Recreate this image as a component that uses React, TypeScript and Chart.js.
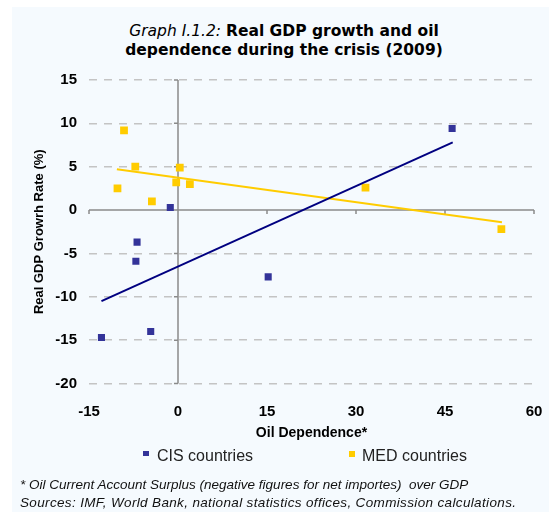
import React, { useEffect, useRef } from "react";
import { Chart, registerables } from "chart.js";

Chart.register(...registerables);

// ---- data ----
const cisX = [46.2, -1.3, -6.9, -7.1, 15.2, -12.9, -4.6];
const cisY = [9.4, 0.3, -3.7, -5.9, -7.7, -14.7, -14.0];
const medX = [-9.1, -7.2, 0.3, -0.3, 2.0, -10.2, -4.4, 31.6, 54.5];
const medY = [9.2, 5.0, 4.9, 3.2, 3.0, 2.5, 1.0, 2.6, -2.2];
const cisTrendX = [-12.9, 46.3];
const cisTrendY = [-10.5, 7.8];
const medTrendX = [-10.3, 54.6];
const medTrendY = [4.7, -1.4];
const seriesNames = ["CIS countries", "MED countries"];
const xTitle = "Oil Dependence*";
const yTitle = "Real GDP Growrh Rate (%)";
const xRange = [-15, 60, 15];
const yRange = [-20, 15, 5];

const BLUE = "#333399";
const BLUE_LINE = "#000080";
const YELLOW = "#FFCC00";
const FONT = "'Liberation Sans', Arial, sans-serif";
const TITLE_FONT = "'DejaVu Sans', sans-serif";

const pts = (xs: number[], ys: number[]) => xs.map((x, i) => ({ x, y: ys[i] }));

const zeroAxes = {
  id: "zeroAxes",
  beforeDatasetsDraw(chart: any) {
    const { ctx, chartArea, scales } = chart;
    const x = scales.x;
    const y = scales.y;
    const y0 = y.getPixelForValue(0);
    const x0 = x.getPixelForValue(0);
    ctx.save();
    ctx.strokeStyle = "#8a8a8a";
    ctx.lineWidth = 1.5;
    ctx.beginPath();
    ctx.moveTo(chartArea.left, y0);
    ctx.lineTo(chartArea.right, y0);
    ctx.moveTo(x0, chartArea.top);
    ctx.lineTo(x0, chartArea.bottom);
    x.ticks.forEach((t: any) => {
      const px = x.getPixelForValue(t.value);
      ctx.moveTo(px, y0);
      ctx.lineTo(px, y0 + 4);
    });
    y.ticks.forEach((t: any) => {
      const py = y.getPixelForValue(t.value);
      ctx.moveTo(x0 - 4, py);
      ctx.lineTo(x0, py);
    });
    ctx.stroke();
    ctx.restore();
  },
};

export default function App() {
  const ref = useRef<HTMLCanvasElement>(null);

  useEffect(() => {
    if (!ref.current) return;
    const chart = new Chart(ref.current, {
      type: "scatter",
      data: {
        datasets: [
          {
            label: seriesNames[0] + " trend",
            type: "line",
            data: pts(cisTrendX, cisTrendY),
            borderColor: BLUE_LINE,
            borderWidth: 2,
            pointRadius: 0,
            showLine: true,
          } as any,
          {
            label: seriesNames[1] + " trend",
            type: "line",
            data: pts(medTrendX, medTrendY),
            borderColor: YELLOW,
            borderWidth: 2,
            pointRadius: 0,
            showLine: true,
          } as any,
          {
            label: seriesNames[0],
            data: pts(cisX, cisY),
            backgroundColor: BLUE,
            borderColor: BLUE,
            borderWidth: 0,
            pointStyle: "rect",
            pointRadius: 5,
          },
          {
            label: seriesNames[1],
            data: pts(medX, medY),
            backgroundColor: YELLOW,
            borderColor: YELLOW,
            borderWidth: 0,
            pointStyle: "rect",
            pointRadius: 5.5,
          },
        ],
      },
      options: {
        animation: false,
        responsive: false,
        devicePixelRatio: 1,
        layout: { padding: { top: 80, right: 15, bottom: 73, left: 0 } },
        plugins: {
          legend: { display: false },
          title: { display: false },
          tooltip: { enabled: false },
        },
        scales: {
          x: {
            type: "linear",
            min: xRange[0],
            max: xRange[1],
            afterFit: (s: any) => {
              s.height = 58.5;
              s.paddingLeft = 0;
              s.paddingRight = 0;
            },
            ticks: {
              stepSize: xRange[2],
              padding: 19,
              color: "#000",
              font: { family: FONT, size: 15, weight: "bold" },
            },
            grid: { display: false, drawTicks: false },
            border: { display: false },
            title: {
              display: true,
              text: xTitle,
              color: "#000",
              padding: 0,
              font: { family: FONT, size: 14, weight: "bold" },
            },
          },
          y: {
            type: "linear",
            min: yRange[0],
            max: yRange[1],
            afterFit: (s: any) => {
              s.width = 89;
              s.paddingTop = 0;
              s.paddingBottom = 0;
            },
            ticks: {
              stepSize: yRange[2],
              padding: 12,
              color: "#000",
              font: { family: FONT, size: 15, weight: "bold" },
            },
            grid: {
              drawTicks: false,
              color: (c: any) => (c.tick && c.tick.value === 0 ? "rgba(0,0,0,0)" : "#c4c4c4"),
              lineWidth: 1.5,
            },
            border: { display: false, dash: [8, 7] },
            title: {
              display: true,
              text: yTitle,
              color: "#000",
              padding: { top: 32, bottom: 0 },
              font: { family: FONT, size: 13, weight: "bold" },
            },
          },
        },
      },
      plugins: [zeroAxes],
    } as any);
    return () => chart.destroy();
  }, []);

  return (
    <div
      style={{
        position: "absolute",
        left: 0,
        top: 0,
        width: 549,
        height: 515,
        background: "#ffffff",
        overflow: "hidden",
        fontFamily: FONT,
      }}
    >
      <div
        style={{
          position: "absolute",
          left: 12,
          top: 7,
          width: 537,
          height: 505,
          background: "#F5FAFE",
        }}
      />
      <div
        style={{
          position: "absolute",
          left: 84,
          top: 22,
          width: 400,
          textAlign: "center",
          fontSize: 15.5,
          lineHeight: "19px",
          color: "#000",
          fontFamily: TITLE_FONT,
        }}
      >
        <span style={{ fontStyle: "italic" }}>Graph I.1.2:</span>{" "}
        <span style={{ fontWeight: "bold" }}>Real GDP growth and oil</span>
        <br />
        <span style={{ fontWeight: "bold" }}>dependence during the crisis (2009)</span>
      </div>
      <canvas
        ref={ref}
        width={549}
        height={515}
        style={{ position: "absolute", left: 0, top: 0, width: 549, height: 515 }}
      />
      <div style={{ position: "absolute", left: 143, top: 451, width: 6, height: 5, background: BLUE }} />
      <div
        style={{ position: "absolute", left: 157, top: 446, fontSize: 16, lineHeight: "19px", color: "#222" }}
      >
        {seriesNames[0]}
      </div>
      <div style={{ position: "absolute", left: 349, top: 451, width: 6, height: 6, background: YELLOW }} />
      <div
        style={{ position: "absolute", left: 362, top: 446, fontSize: 16, lineHeight: "19px", color: "#222" }}
      >
        {seriesNames[1]}
      </div>
      <div
        style={{
          position: "absolute",
          left: 20,
          top: 476,
          fontSize: 13.5,
          lineHeight: "18px",
          fontStyle: "italic",
          color: "#111",
          whiteSpace: "pre",
        }}
      >
        {"* Oil Current Account Surplus (negative figures for net importes)  over GDP"}
        <br />
        <span style={{ letterSpacing: "0.35px" }}>
          {"Sources: IMF, World Bank, national statistics offices, Commission calculations."}
        </span>
      </div>
    </div>
  );
}
